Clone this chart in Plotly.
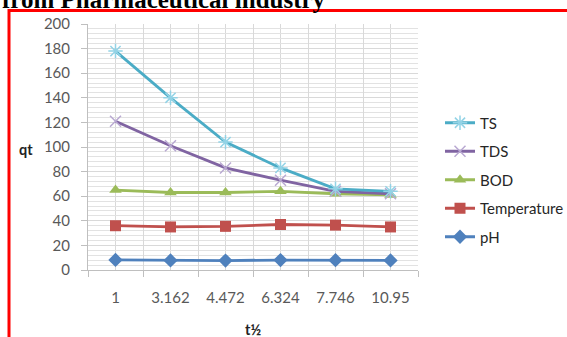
import plotly.graph_objects as go

categories = ["1", "3.162", "4.472", "6.324", "7.746", "10.95"]
ts = [178, 140, 104, 83, 66, 64]
tds = [121, 101, 83, 73, 64, 62]
bod = [65, 63, 63, 64, 62, 61]
temperature = [36, 35, 35.5, 37, 36.5, 35]
ph = [8.2, 7.8, 7.7, 8.1, 8.0, 7.8]

y_ticks = [0, 20, 40, 60, 80, 100, 120, 140, 160, 180, 200]

W, H = 567, 337
PL, PT, PW, PH = 88, 24, 330, 246  # plot area in reference pixels

def px(xr):
    return (xr - PL) / PW

def py(yr):
    return (PT + PH - yr) / PH

fig = go.Figure()

series = [
    ("pH", ph, "#4f81bd", dict(symbol="diamond", size=11, color="#4f81bd"), 5),
    ("Temperature", temperature, "#c0504d", dict(symbol="square", size=11, color="#c0504d"), 4),
    ("BOD", bod, "#9bbb59", dict(symbol="triangle-up", size=11, color="#9bbb59"), 3),
    ("TDS", tds, "#8064a2", dict(symbol="x-thin-open", size=11, color="#b9a9d2", line=dict(width=1.5, color="#b9a9d2")), 2),
    ("TS", ts, "#4bacc6", dict(symbol="asterisk-open", size=12, color="#93d3e6", line=dict(width=1.5, color="#93d3e6")), 1),
]
for name, vals, col, mk, rank in series:
    fig.add_trace(go.Scatter(
        x=categories, y=vals, name=name, mode="lines+markers",
        line=dict(color=col, width=2.8), marker=mk, legendgroup=name, legendrank=rank,
    ))

# center gridlines for categories
for i, _ in enumerate(categories):
    fig.add_shape(type="line", xref="x", yref="paper", x0=i, x1=i, y0=0, y1=1,
                  line=dict(color="#d9d9d9", width=1), layer="below")

# red frame
fig.add_shape(type="rect", xref="paper", yref="paper",
              x0=px(9), x1=px(620), y0=py(420), y1=py(10.5),
              line=dict(color="#ff0000", width=3), layer="above")

fig.add_annotation(text="<b>from Pharmaceutical industry</b>", xref="paper", yref="paper",
                   x=px(0), xanchor="left", y=py(15), yanchor="bottom",
                   showarrow=False, font=dict(family="Liberation Serif", size=25, color="black"))

fig.add_annotation(text="<b>qt</b>", xref="paper", yref="paper",
                   x=px(26), xanchor="center", y=py(149), yanchor="middle",
                   showarrow=False, font=dict(family="Lato", size=14.5, color="#222"))
fig.add_annotation(text="<b>t½</b>", xref="paper", yref="paper",
                   x=0.5, xanchor="center", y=py(329), yanchor="middle",
                   showarrow=False, font=dict(family="Lato", size=14.5, color="#222"))

fig.update_layout(
    width=W, height=H,
    margin=dict(l=PL, r=W - PL - PW, t=PT, b=H - PT - PH, autoexpand=False),
    paper_bgcolor="white", plot_bgcolor="white",
    font=dict(family="Lato", size=15, color="#595959"),
    showlegend=True,
    legend=dict(x=px(440), xanchor="left", y=py(180), yanchor="middle",
                traceorder="grouped", tracegroupgap=6,
                font=dict(family="Lato", size=15, color="#262626"),
                bgcolor="rgba(0,0,0,0)"),
    xaxis=dict(type="category", tickson="boundaries", ticks="outside", ticklen=6,
               tickcolor="#bfbfbf", showgrid=True, gridcolor="#d9d9d9",
               showline=True, linecolor="#bfbfbf", linewidth=1, automargin=False,
               ticklabelstandoff=14, tickfont=dict(size=15, color="#595959"),
               range=[-0.5, 5.5]),
    yaxis=dict(range=[0, 200], tickvals=y_ticks, ticks="outside", ticklen=6,
               tickcolor="#bfbfbf", showgrid=True, gridcolor="#d9d9d9",
               showline=True, linecolor="#bfbfbf", linewidth=1, automargin=False,
               ticklabelstandoff=8, tickfont=dict(size=15, color="#595959"),
               minor=dict(dtick=4, showgrid=True, gridcolor="#e2e2e2", gridwidth=1),
               zeroline=False),
)

fig.write_html("out.html", config={"displayModeBar": False},
               post_script="document.body.style.margin='0';document.body.style.overflow='hidden';")
